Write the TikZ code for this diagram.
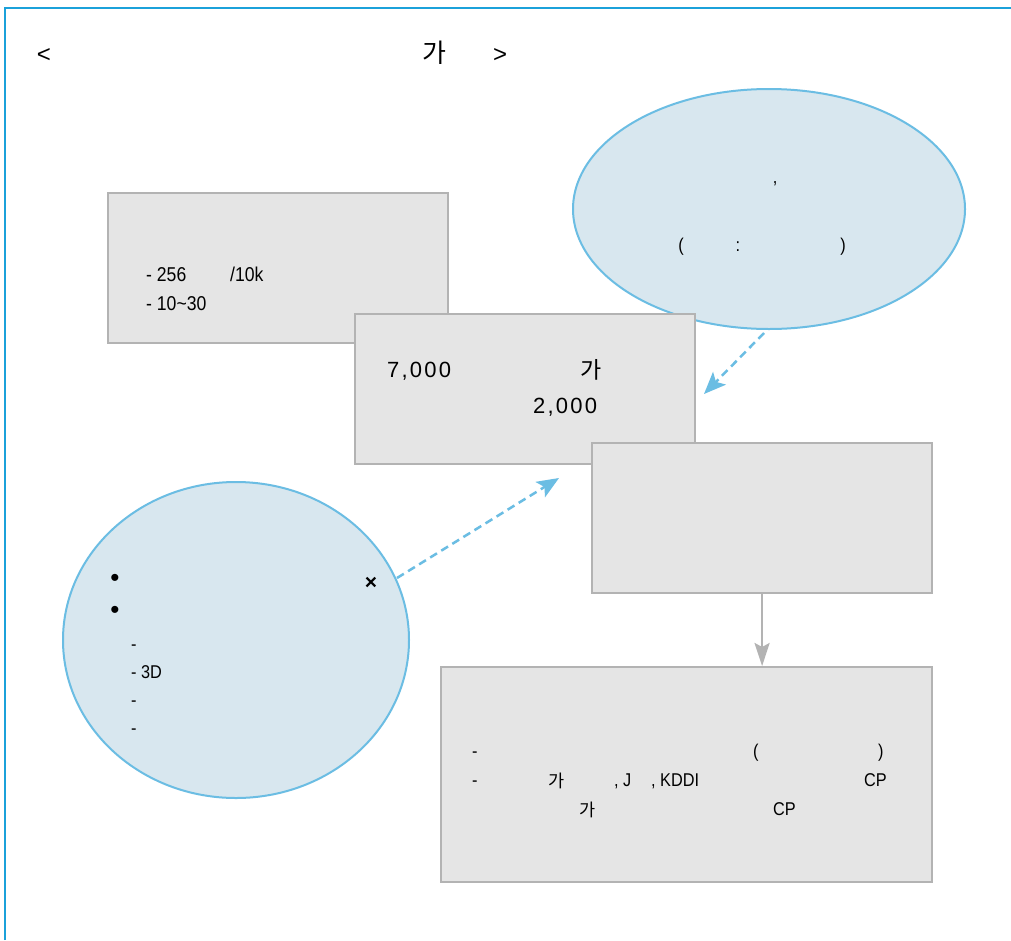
\documentclass[tikz,border=0pt]{standalone}
\usepackage{fontspec}
\setmainfont{Liberation Sans}
\newfontfamily\cond[FakeStretch=0.88]{Liberation Sans}
\newfontfamily\widefont[LetterSpace=10]{Liberation Sans}
\newfontfamily\kr{Noto Sans CJK KR}
\usetikzlibrary{arrows.meta,shapes.geometric}
\definecolor{boxfill}{HTML}{E5E5E5}
\definecolor{boxline}{HTML}{B3B3B3}
\definecolor{ellfill}{HTML}{D8E7EF}
\definecolor{ellline}{HTML}{6BBDE3}
\definecolor{framec}{HTML}{1BA1DA}
\tikzset{
  gbox/.style={draw=boxline, fill=boxfill, line width=2.2pt, rectangle, inner sep=0pt, anchor=north west},
  ell/.style={draw=ellline, fill=ellfill, line width=2pt, ellipse, inner sep=0pt},
  txt/.style={inner sep=0pt, anchor=base west, font=\cond\fontsize{20}{24}\selectfont},
  txts/.style={inner sep=0pt, anchor=base west, font=\cond\fontsize{18.5}{22}\selectfont},
  ktxt/.style={inner sep=0pt, anchor=base west, font=\kr\fontsize{17.5}{21}\selectfont},
  wtxt/.style={inner sep=0pt, anchor=base west, font=\widefont\fontsize{22}{26}\selectfont},
  ttl/.style={inner sep=0pt, anchor=base, font=\fontsize{24}{28}\selectfont},
  bluearrow/.style={draw=ellline, line width=2.5pt, dash pattern=on 8pt off 5pt,
    -{Stealth[length=22pt,width=18pt,inset=5pt]}},
  greyarrow/.style={draw=boxline, line width=2.5pt, -{Stealth[length=23pt,width=15pt,inset=4pt]}}
}
\begin{document}
\begin{tikzpicture}[x=1pt,y=-1pt]
\useasboundingbox (0,0) rectangle (1011,940);
\fill[white] (0,0) rectangle (1011,940);
% frame
\draw[framec, line width=2pt] (5,940) -- (5,8) -- (1011,8);
% title
\node[ttl] (tlt) at (44,62) {<};
\node[ttl, font=\kr\fontsize{26}{30}\selectfont] (tka) at (434,62) {가};
\node[ttl] (tgt) at (500,62) {>};

% top-right ellipse
\node[ell, minimum width=392pt, minimum height=240pt] (e1) at (769,209) {};
\node[txts, anchor=base] (e1c) at (775,183) {,};
\node[txts, anchor=base] (e1p) at (681,251) {(};
\node[txts, anchor=base] (e1k) at (738,251) {:};
\node[txts, anchor=base] (e1q) at (843,251) {)};

% box 1
\node[gbox, minimum width=340pt, minimum height=150pt] (b1) at (107,192) {};
\node[txt] (b1a) at (146,281) {- 256};
\node[txt] (b1b) at (230,281) {/10k};
\node[txt] (b1c) at (146,310) {- 10\textasciitilde30};

% box 2
\node[gbox, minimum width=340pt, minimum height=150pt] (b2) at (354,313) {};
\node[wtxt] (b2a) at (387,377) {7,000};
\node[ktxt, font=\kr\fontsize{23}{27}\selectfont] (b2b) at (580,378) {가};
\node[wtxt] (b2c) at (533,413) {2,000};

% box 3
\node[gbox, minimum width=340pt, minimum height=150pt] (b3) at (591,442) {};

% box 4
\node[gbox, minimum width=491pt, minimum height=215pt] (b4) at (440,666) {};
\node[txts] (b4a) at (472,757) {-};
\node[txts] (b4b) at (753,757) {(};
\node[txts] (b4c) at (878,757) {)};
\node[txts] (b4d) at (472,786) {-};
\node[ktxt] (b4e) at (548,787) {가};
\node[txts] (b4f) at (614,786) {, J};
\node[txts] (b4g) at (651,786) {, KDDI};
\node[txts] (b4h) at (864,786) {CP};
\node[ktxt] (b4i) at (579,816) {가};
\node[txts] (b4j) at (773,815) {CP};

% left ellipse
\node[ell, minimum width=346pt, minimum height=316pt] (e2) at (236,640) {};
\node[inner sep=0pt, font=\fontsize{26}{30}\selectfont] (e2a) at (115,580) {•};
\node[inner sep=0pt, font=\fontsize{26}{30}\selectfont] (e2b) at (115,612) {•};
\node[inner sep=0pt, font=\bfseries\fontsize{21}{25}\selectfont] (e2x) at (371,583) {×};
\node[txts] (e2c) at (131,650) {-};
\node[txts] (e2d) at (131,678) {- 3D};
\node[txts] (e2e) at (131,706) {-};
\node[txts] (e2f) at (131,734) {-};

% connectors
\coordinate (a1s) at (764,333);
\coordinate (a1e) at (704,394);
\draw[bluearrow] (a1s) -- (a1e);
\coordinate (a2s) at (397,578);
\coordinate (a2e) at (559,478);
\draw[bluearrow] (a2s) -- (a2e);
\draw[greyarrow] (b3.south) -- (b3.south |- b4.north);
\end{tikzpicture}
\end{document}
